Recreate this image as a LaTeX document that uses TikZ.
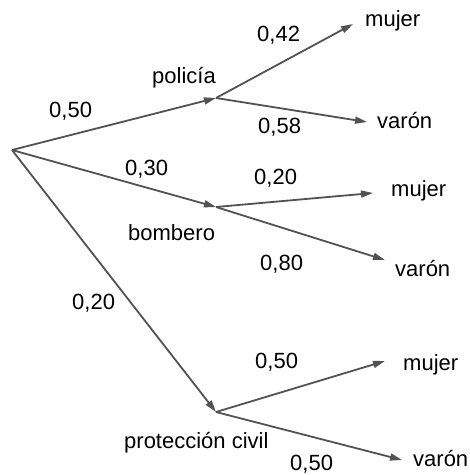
\documentclass[tikz,border=0pt]{standalone}
\usepackage{fontspec}
\setmainfont{Liberation Sans}
\usetikzlibrary{arrows.meta}
\begin{document}
\begin{tikzpicture}[x=1pt,y=-1pt,
  branch/.style={draw=black!68, line width=1.8pt, -{Triangle[length=12pt,width=7pt]}},
  lbl/.style={anchor=base west, inner sep=0pt, font=\fontsize{22}{26}\selectfont}]
\useasboundingbox (0,0) rectangle (470,475);
\coordinate (R) at (12,150);
\coordinate (P) at (216,98);
\coordinate (B) at (216,207);
\coordinate (C) at (216,412);
\coordinate (PM) at (353,24);
\coordinate (PV) at (367,122);
\coordinate (BM) at (373,193);
\coordinate (BV) at (385,260);
\coordinate (CM) at (385,361);
\coordinate (CV) at (402,460);
\draw[branch] (R) -- (P);
\draw[branch] (R) -- (B);
\draw[branch] (R) -- (C);
\draw[branch] (P) -- (PM);
\draw[branch] (P) -- (PV);
\draw[branch] (B) -- (BM);
\draw[branch] (B) -- (BV);
\draw[branch] (C) -- (CM);
\draw[branch] (C) -- (CV);
\node[lbl] (lRP) at (49,117) {0,50};
\node[lbl] (lP) at (152,83) {policía};
\node[lbl] (lRB) at (125,175) {0,30};
\node[lbl] (lB) at (128,240) {bombero};
\node[lbl] (lRC) at (72,309) {0,20};
\node[lbl] (lC) at (124,448) {protección civil};
\node[lbl] (lPM) at (257,41.5) {0,42};
\node[lbl] (tPM) at (365,26.5) {mujer};
\node[lbl] (lPV) at (258,133) {0,58};
\node[lbl] (tPV) at (377,128.5) {varón};
\node[lbl] (lBM) at (254,184.5) {0,20};
\node[lbl] (tBM) at (391,196.5) {mujer};
\node[lbl] (lBV) at (260,270) {0,80};
\node[lbl] (tBV) at (395,276.5) {varón};
\node[lbl] (lCM) at (255,368) {0,50};
\node[lbl] (tCM) at (403,370) {mujer};
\node[lbl] (lCV) at (290,470.5) {0,50};
\node[lbl] (tCV) at (413,466.5) {varón};
\end{tikzpicture}
\end{document}
